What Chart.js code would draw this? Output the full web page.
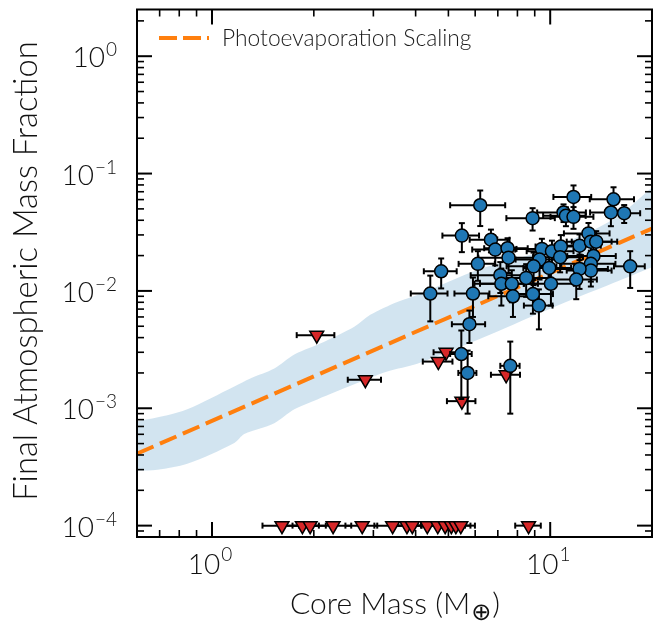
<!DOCTYPE html>
<html>
<head>
<meta charset="utf-8">
<script src="https://cdn.jsdelivr.net/npm/chart.js@4.4.0/dist/chart.umd.min.js"></script>
<style>
  html, body { margin: 0; padding: 0; background: #fff; }
  canvas { display: block; }
</style>
</head>
<body>
<canvas id="chart" width="671" height="626"></canvas>
<script>
// detections (core mass in Earth masses, final atmospheric mass fraction)
const detMass = [6.21, 11.72, 15.39, 8.87, 10.95, 11.13, 11.72, 15.12, 16.55, 5.48,
  6.68, 6.88, 7.48, 7.53, 6.11, 4.76, 4.42, 5.91, 7.12, 7.17,
  7.70, 8.49, 7.76, 8.89, 9.45, 10.12, 10.75, 10.70, 9.30, 8.93,
  9.93, 10.05, 12.21, 12.98, 13.19, 13.68, 13.43, 13.19, 13.19, 12.21,
  11.94, 17.24, 5.77, 5.46, 5.70, 7.62, 9.26];
const detFrac = [0.0537, 0.0632, 0.0604, 0.0417, 0.0466, 0.0436, 0.0428, 0.0466, 0.0459, 0.0296,
  0.0273, 0.0225, 0.0231, 0.0192, 0.0170, 0.0147, 0.0095, 0.0095, 0.0136, 0.0115,
  0.0115, 0.0129, 0.0090, 0.0094, 0.0228, 0.0218, 0.0239, 0.0194, 0.0185, 0.0162,
  0.0157, 0.0115, 0.0243, 0.0309, 0.0263, 0.0263, 0.0198, 0.0170, 0.0149, 0.0154,
  0.0125, 0.0162, 0.0052, 0.0029, 0.0020, 0.0023, 0.0075];
const detMassErr = [1.15, 1.5, 2.3, 1.45, 1.8, 1.6, 1.7, 2.0, 1.9, 0.68,
  0.9, 1.0, 1.1, 1.4, 0.75, 0.53, 0.55, 0.7, 1.3, 1.2,
  1.5, 1.4, 1.2, 1.3, 1.5, 1.6, 1.7, 1.8, 1.4, 1.5,
  1.6, 1.7, 1.9, 2.0, 2.0, 2.1, 2.2, 2.4, 2.0, 2.6,
  1.8, 1.8, 0.65, 0.4, 0.35, 0.5, 0.9];
const detFracErr = [0.018, 0.016, 0.016, 0.009, 0.008, 0.008, 0.009, 0.011, 0.008, 0.0082,
  0.006, 0.006, 0.005, 0.005, 0.0048, 0.0042, 0.004, 0.0035, 0.004, 0.004,
  0.0035, 0.004, 0.003, 0.003, 0.005, 0.005, 0.006, 0.005, 0.006, 0.005,
  0.005, 0.004, 0.006, 0.007, 0.006, 0.006, 0.005, 0.005, 0.004, 0.005,
  0.004, 0.0056, 0.0016, 0.0017, 0.0011, 0.0014, 0.0028];

// upper limits
const limMass = [2.04, 2.84, 4.92, 4.67, 5.48, 7.41,
  1.61, 1.85, 1.95, 2.28, 2.78, 3.42, 3.77, 3.91, 4.33, 4.65, 4.89, 5.10, 5.26, 5.44, 8.63];
const limFrac = [0.0042, 0.00175, 0.0030, 0.0025, 0.00115, 0.00193,
  1e-4, 1e-4, 1e-4, 1e-4, 1e-4, 1e-4, 1e-4, 1e-4, 1e-4, 1e-4, 1e-4, 1e-4, 1e-4, 1e-4, 1e-4];
const limMassErr = [0.26, 0.32, 0.40, 0.47, 0.53, 0.73,
  0.2, 0.22, 0.22, 0.3, 0.3, 0.4, 0.4, 0.45, 0.45, 0.5, 0.5, 0.5, 0.55, 0.55, 0.75];

// photoevaporation scaling and its spread
const scalingMass = [0.6, 20];
const scalingFrac = [4.1e-4, 0.034];
const bandUpperMass = [0.6, 0.738, 0.845, 1.164, 1.298, 1.528, 1.751, 2.148, 2.634, 2.937, 3.53, 4.045, 6.21, 9.80, 15.36, 20];
const bandUpperFrac = [7.76e-4, 8.73e-4, 9.80e-4, 1.535e-3, 1.795e-3, 2.18e-3, 2.87e-3, 3.69e-3, 4.94e-3, 6.25e-3, 8.05e-3, 9.23e-3, 1.534e-2, 2.265e-2, 4.06e-2, 7.59e-2];
const bandLowerMass = [0.6, 0.69, 0.845, 1.164, 1.246, 1.528, 1.751, 2.048, 2.634, 3.298, 4.045, 6.21, 9.80, 15.36, 20];
const bandLowerFrac = [2.93e-4, 2.99e-4, 3.36e-4, 5.06e-4, 6.03e-4, 7.46e-4, 9.80e-4, 1.19e-3, 1.60e-3, 2.06e-3, 2.40e-3, 3.92e-3, 6.89e-3, 1.166e-2, 1.59e-2];

const xTickExps = [0, 1];
const yTickExps = [0, -1, -2, -3, -4];
const legendLabel = 'Photoevaporation Scaling';
const xTitle = 'Core Mass (M';
const yTitle = 'Final Atmospheric Mass Fraction';

const FONT = 'Lato, "DejaVu Sans", sans-serif';
const W = '300 ';
const zip = (xs, ys) => xs.map((x, i) => ({ x: x, y: ys[i] }));

function line(ctx, x0, y0, x1, y1) {
  ctx.beginPath(); ctx.moveTo(x0, y0); ctx.lineTo(x1, y1); ctx.stroke();
}

const errorBars = {
  id: 'errorBars',
  beforeDatasetDraw(chart, args) {
    const ds = chart.data.datasets[args.index];
    if (!ds.errX) return;
    const { ctx, scales: { x, y } } = chart;
    ctx.save();
    ctx.strokeStyle = '#000';
    ctx.lineWidth = 2;
    const cap = 3;
    ds.data.forEach((p, i) => {
      const px = x.getPixelForValue(p.x), py = y.getPixelForValue(p.y);
      const x0 = x.getPixelForValue(p.x - ds.errX[i]), x1 = x.getPixelForValue(p.x + ds.errX[i]);
      line(ctx, x0, py, x1, py);
      line(ctx, x0, py - cap, x0, py + cap);
      line(ctx, x1, py - cap, x1, py + cap);
      if (ds.errY) {
        const y0 = y.getPixelForValue(p.y + ds.errY[i]);
        const y1 = y.getPixelForValue(Math.max(p.y - ds.errY[i], 1e-9));
        line(ctx, px, y0, px, y1);
        line(ctx, px - cap, y0, px + cap, y0);
        line(ctx, px - cap, y1, px + cap, y1);
      }
    });
    ctx.restore();
  }
};

function drawPower(ctx, exp, x, baseY, expY, align) {
  const base = '10', ex = exp < 0 ? '\u2212' + (-exp) : String(exp);
  ctx.font = W + '28px ' + FONT;
  const wb = ctx.measureText(base).width;
  ctx.font = W + '19px ' + FONT;
  const we = ctx.measureText(ex).width;
  const total = wb + we + 1;
  const start = align === 'right' ? x - total : x - total / 2;
  ctx.textAlign = 'left';
  ctx.textBaseline = 'alphabetic';
  ctx.font = W + '28px ' + FONT;
  ctx.fillText(base, start, baseY);
  ctx.font = W + '19px ' + FONT;
  ctx.fillText(ex, start + wb + 1, expY);
}

function fitFont(ctx, text, width) {
  ctx.font = W + '20px ' + FONT;
  return 20 * width / ctx.measureText(text).width;
}

const decor = {
  id: 'decor',
  afterDraw(chart) {
    const { ctx, chartArea: a, scales: { x, y } } = chart;
    ctx.save();
    ctx.strokeStyle = '#000';
    // inward ticks on all four sides
    for (let e = -1; e <= 1; e++) {
      for (let m = 1; m <= 9; m++) {
        const v = m * Math.pow(10, e);
        if (v <= x.min || v >= x.max) continue;
        const px = x.getPixelForValue(v);
        const len = m === 1 ? 15 : 7;
        ctx.lineWidth = m === 1 ? 2 : 1.6;
        line(ctx, px, a.bottom, px, a.bottom - len);
        line(ctx, px, a.top, px, a.top + len);
      }
    }
    for (let e = -5; e <= 0; e++) {
      for (let m = 1; m <= 9; m++) {
        const v = m * Math.pow(10, e);
        if (v <= y.min || v >= y.max) continue;
        const py = y.getPixelForValue(v);
        const len = m === 1 ? 15 : 7;
        ctx.lineWidth = m === 1 ? 2 : 1.6;
        line(ctx, a.left, py, a.left + len, py);
        line(ctx, a.right, py, a.right - len, py);
      }
    }
    ctx.lineWidth = 2;
    ctx.strokeRect(a.left, a.top, a.right - a.left, a.bottom - a.top);

    // tick labels
    ctx.fillStyle = '#111';
    yTickExps.forEach(e => {
      const py = y.getPixelForValue(Math.pow(10, e));
      drawPower(ctx, e, 117, py + 11, py, 'right');
    });
    xTickExps.forEach(e => {
      const px = x.getPixelForValue(Math.pow(10, e));
      drawPower(ctx, e, px - 2, 574, 561, 'center');
    });

    // axis titles
    let fs = fitFont(ctx, yTitle, 460);
    ctx.save();
    ctx.translate(26, 271);
    ctx.rotate(-Math.PI / 2);
    ctx.font = W + fs.toFixed(1) + 'px ' + FONT;
    ctx.textAlign = 'center';
    ctx.textBaseline = 'middle';
    ctx.fillText(yTitle, 0, 0);
    ctx.restore();

    fs = 30;
    ctx.font = W + fs + 'px ' + FONT;
    const w1 = ctx.measureText(xTitle).width;
    const symFont = (fs * 0.8).toFixed(1) + 'px "DejaVu Sans", ' + FONT;
    ctx.font = symFont;
    const w2 = ctx.measureText('\u2295').width;
    ctx.font = W + fs + 'px ' + FONT;
    const w3 = ctx.measureText(')').width;
    const sx = 395 - (w1 + w2 + w3 + 2) / 2;
    ctx.textAlign = 'left';
    ctx.textBaseline = 'alphabetic';
    ctx.fillText(xTitle, sx, 614);
    ctx.font = symFont;
    ctx.fillText('\u2295', sx + w1 + 1, 620);
    ctx.font = W + fs + 'px ' + FONT;
    ctx.fillText(')', sx + w1 + w2 + 2, 614);

    // legend
    ctx.strokeStyle = '#ff7f0e';
    ctx.lineWidth = 4;
    ctx.setLineDash([18, 6]);
    line(ctx, 159, 38, 209, 38);
    ctx.setLineDash([]);
    fs = fitFont(ctx, legendLabel, 250);
    ctx.font = W + fs.toFixed(1) + 'px ' + FONT;
    ctx.fillStyle = '#1a1a1a';
    ctx.textBaseline = 'middle';
    ctx.fillText(legendLabel, 222, 39);
    ctx.restore();
  }
};

new Chart(document.getElementById('chart'), {
  type: 'line',
  data: {
    datasets: [
      {
        label: 'band upper',
        data: zip(bandUpperMass, bandUpperFrac),
        borderWidth: 0, pointRadius: 0, tension: 0.3,
        backgroundColor: 'rgba(31,119,180,0.2)',
        borderColor: 'rgba(0,0,0,0)',
        fill: '+1', order: 6
      },
      {
        label: 'band lower',
        data: zip(bandLowerMass, bandLowerFrac),
        borderWidth: 0, pointRadius: 0, tension: 0.3,
        borderColor: 'rgba(0,0,0,0)',
        fill: false, order: 5
      },
      {
        label: legendLabel,
        data: zip(scalingMass, scalingFrac),
        borderColor: '#ff7f0e', borderWidth: 4, borderDash: [18, 7],
        pointRadius: 0, fill: false, order: 4
      },
      {
        label: 'Upper limits',
        data: zip(limMass, limFrac),
        errX: limMassErr,
        showLine: false,
        pointStyle: 'triangle', rotation: 180,
        pointRadius: 8, pointBackgroundColor: '#d62728',
        pointBorderColor: '#000', pointBorderWidth: 1.5,
        order: 3
      },
      {
        label: 'Detections',
        data: zip(detMass, detFrac),
        errX: detMassErr, errY: detFracErr,
        showLine: false,
        pointStyle: 'circle',
        pointRadius: 6.5, pointBackgroundColor: '#1f77b4',
        pointBorderColor: '#000', pointBorderWidth: 1.5,
        order: 1
      }
    ]
  },
  options: {
    responsive: false,
    animation: false,
    devicePixelRatio: 1,
    events: [],
    layout: { padding: { left: 137, right: 19, top: 6, bottom: 89 } },
    plugins: { legend: { display: false }, tooltip: { enabled: false } },
    scales: {
      x: {
        type: 'logarithmic', min: 0.6, max: 20,
        grid: { display: false, drawTicks: false },
        border: { display: false },
        ticks: { display: false },
        afterFit: s => { s.height = 0; }
      },
      y: {
        type: 'logarithmic', min: 8e-5, max: 2.5,
        grid: { display: false, drawTicks: false },
        border: { display: false },
        ticks: { display: false },
        afterFit: s => { s.width = 0; }
      }
    }
  },
  plugins: [errorBars, decor]
});
</script>
</body>
</html>
